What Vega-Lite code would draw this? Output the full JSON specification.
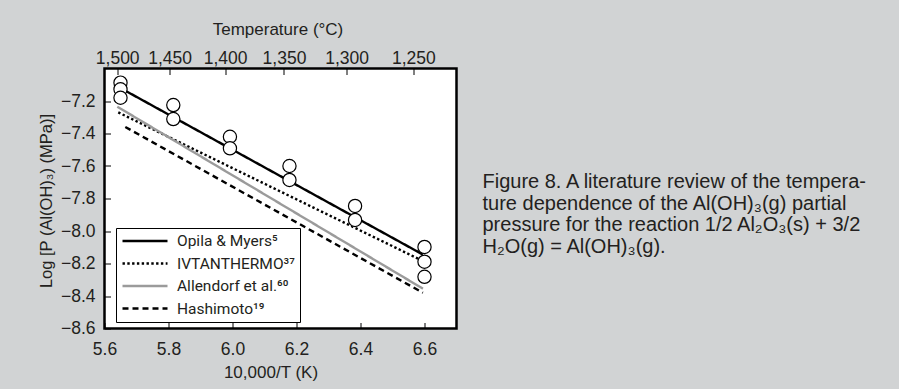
{
  "$schema": "https://vega.github.io/schema/vega-lite/v6.json",
  "width": 352,
  "height": 260,
  "autosize": {"type": "none"},
  "padding": {"left": 104.5, "top": 68.5, "right": 442.5, "bottom": 60.5},
  "background": "#d1d3d4",
  "title": {
    "text": ["Figure 8. A literature review of the tempera-", "ture dependence of the Al(OH)₃(g) partial", "pressure for the reaction 1/2 Al₂O₃(s) + 3/2", "H₂O(g) = Al(OH)₃(g)."],
    "orient": "top",
    "frame": "group",
    "anchor": "start",
    "align": "left",
    "baseline": "top",
    "offset": 0,
    "dx": 378,
    "dy": 236.5,
    "font": "Liberation Sans, Arial, sans-serif",
    "fontSize": 20,
    "fontWeight": "normal",
    "color": "#231f20",
    "lineHeight": 21.5
  },
  "datasets": {
    "lines": [
      {"source": "Opila & Myers⁵", "inv_T": 5.645, "log_p": -7.115},
      {"source": "Opila & Myers⁵", "inv_T": 6.595, "log_p": -8.145},
      {"source": "IVTANTHERMO³⁷", "inv_T": 5.643, "log_p": -7.27},
      {"source": "IVTANTHERMO³⁷", "inv_T": 6.59, "log_p": -8.18},
      {"source": "Allendorf et al.⁶⁰", "inv_T": 5.64, "log_p": -7.235},
      {"source": "Allendorf et al.⁶⁰", "inv_T": 6.595, "log_p": -8.355},
      {"source": "Hashimoto¹⁹", "inv_T": 5.665, "log_p": -7.36},
      {"source": "Hashimoto¹⁹", "inv_T": 6.595, "log_p": -8.38}
    ],
    "points": [
      {"inv_T": 5.65, "log_p": -7.087},
      {"inv_T": 5.65, "log_p": -7.128},
      {"inv_T": 5.65, "log_p": -7.18},
      {"inv_T": 5.815, "log_p": -7.225},
      {"inv_T": 5.815, "log_p": -7.311},
      {"inv_T": 5.992, "log_p": -7.42},
      {"inv_T": 5.992, "log_p": -7.491},
      {"inv_T": 6.178, "log_p": -7.6},
      {"inv_T": 6.178, "log_p": -7.686},
      {"inv_T": 6.383, "log_p": -7.846},
      {"inv_T": 6.383, "log_p": -7.932},
      {"inv_T": 6.6, "log_p": -8.098},
      {"inv_T": 6.6, "log_p": -8.189},
      {"inv_T": 6.6, "log_p": -8.282}
    ]
  },
  "layer": [
    {
      "data": {"name": "lines"},
      "mark": {"type": "line", "strokeWidth": 2.4, "strokeCap": "butt"},
      "encoding": {
        "x": {
          "field": "inv_T", "type": "quantitative",
          "scale": {"domain": [5.6, 6.7], "nice": false, "zero": false},
          "axis": {
            "orient": "bottom",
            "values": [5.6, 5.8, 6.0, 6.2, 6.4, 6.6],
            "format": ".1f",
            "title": "10,000/T (K)",
            "labelBaseline": "alphabetic",
            "labelPadding": 31.5,
            "labelOverlap": false,
            "titleX": 166,
            "titleY": 48.5,
            "titleAlign": "center",
            "titleBaseline": "alphabetic"
          }
        },
        "y": {
          "field": "log_p", "type": "quantitative",
          "scale": {"domain": [-8.6, -7.0], "nice": false, "zero": false},
          "axis": {
            "orient": "left",
            "values": [-8.6, -8.4, -8.2, -8.0, -7.8, -7.6, -7.4, -7.2],
            "format": ".1f",
            "title": "Log [P (Al(OH)₃) (MPa)]",
            "labelPadding": 15.5,
            "labelOverlap": false,
            "labelSeparation": 0,
            "titleFontSize": 16.5,
            "titleX": -58,
            "titleY": 132,
            "titleAngle": 270,
            "titleAlign": "center",
            "titleBaseline": "middle"
          }
        },
        "color": {
          "field": "source", "type": "nominal",
          "scale": {
            "domain": ["Opila & Myers⁵", "IVTANTHERMO³⁷", "Allendorf et al.⁶⁰", "Hashimoto¹⁹"],
            "range": ["#000000", "#000000", "#9b9b9b", "#000000"]
          },
          "legend": {
            "title": null,
            "orient": "none",
            "legendX": 11.5,
            "legendY": 159.5,
            "fillColor": "white",
            "strokeColor": "black",
            "padding": 5,
            "symbolType": "stroke",
            "symbolSize": 2025,
            "symbolStrokeWidth": 2.4,
            "clipHeight": 16,
            "rowPadding": 5.5,
            "labelOffset": 8,
            "labelFont": "Roboto, Liberation Sans, sans-serif",
            "labelFontSize": 15.5,
            "labelColor": "#231f20",
            "labelLimit": 0
          }
        },
        "strokeDash": {
          "field": "source", "type": "nominal",
          "scale": {
            "domain": ["Opila & Myers⁵", "IVTANTHERMO³⁷", "Allendorf et al.⁶⁰", "Hashimoto¹⁹"],
            "range": [[1, 0], [2.4, 2.4], [1, 0], [6, 4]]
          },
          "legend": null
        }
      }
    },
    {
      "data": {"name": "points"},
      "mark": {"type": "point", "shape": "circle", "filled": false, "fill": "white", "fillOpacity": 1, "stroke": "black", "strokeWidth": 1.2, "size": 175, "opacity": 1},
      "encoding": {
        "x": {
          "field": "inv_T", "type": "quantitative",
          "axis": {
            "orient": "top",
            "values": [5.63968, 5.80332, 5.97675, 6.16086, 6.35667, 6.56534],
            "labelExpr": "format(round(10000 / datum.value - 273.15), ',')",
            "title": "Temperature (°C)",
            "labelBaseline": "alphabetic",
            "labelPadding": 11.5,
            "labelOverlap": false,
            "titleX": 173,
            "titleY": -34.2,
            "titleAlign": "center",
            "titleBaseline": "alphabetic"
          }
        },
        "y": {
          "field": "log_p", "type": "quantitative",
          "axis": {
            "orient": "left",
            "values": [-8.6, -8.4, -8.2, -8.0, -7.8, -7.6, -7.4, -7.2],
            "format": ".1f",
            "title": "Log [P (Al(OH)₃) (MPa)]",
            "labelPadding": 15.5,
            "labelOverlap": false,
            "labelSeparation": 0,
            "titleFontSize": 16.5,
            "titleX": -58,
            "titleY": 132,
            "titleAngle": 270,
            "titleAlign": "center",
            "titleBaseline": "middle"
          }
        }
      }
    }
  ],
  "resolve": {"axis": {"x": "independent"}},
  "config": {
    "view": {"stroke": "black", "strokeWidth": 2.5, "fill": "white"},
    "axis": {
      "domain": false,
      "grid": false,
      "ticks": true,
      "tickSize": -6,
      "tickColor": "black",
      "tickWidth": 1,
      "labelFlush": false,
      "labelOverlap": false,
      "labelFont": "Liberation Sans, Arial, sans-serif",
      "labelFontSize": 17.5,
      "labelColor": "#231f20",
      "titleFont": "Liberation Sans, Arial, sans-serif",
      "titleFontSize": 17,
      "titleFontWeight": "normal",
      "titleColor": "#231f20"
    }
  }
}
